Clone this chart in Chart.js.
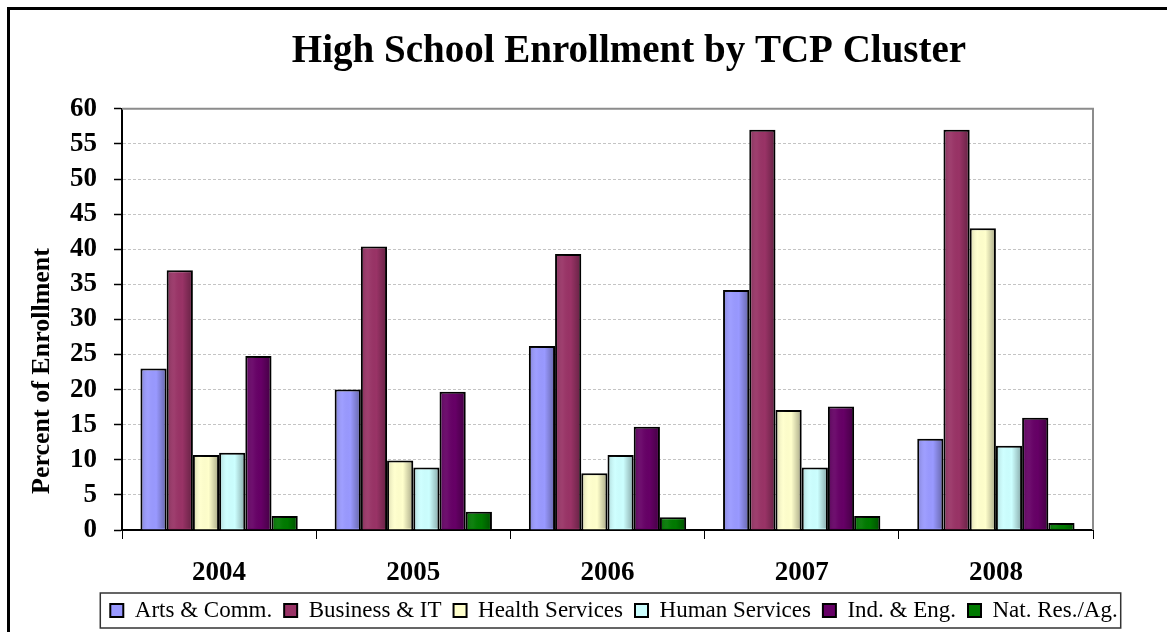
<!DOCTYPE html>
<html>
<head>
<meta charset="utf-8">
<script src="https://cdn.jsdelivr.net/npm/chart.js@4/dist/chart.umd.min.js"></script>
<style>
  html, body { margin: 0; padding: 0; background: #fff; }
  #wrap { position: relative; width: 1167px; height: 632px; }
</style>
</head>
<body>
<div id="wrap"><canvas id="enrollChart"></canvas></div>
<script>
// data
let years = ['2004', '2005', '2006', '2007', '2008'];
let artsComm = [23, 20, 26.2, 34.2, 13];
let businessIT = [37, 40.4, 39.3, 57, 57];
let healthServices = [10.7, 9.9, 8.1, 17.1, 43];
let humanServices = [11, 8.9, 10.7, 8.9, 12];
let indEng = [24.8, 19.7, 14.7, 17.6, 16];
let natResAg = [2, 2.6, 1.8, 2, 1];
let yTicks = [0, 5, 10, 15, 20, 25, 30, 35, 40, 45, 50, 55, 60];

const serif = "'Liberation Serif', 'DejaVu Serif', serif";

function ds(label, data, color) {
  return {
    label: label,
    data: data,
    backgroundColor: color,
    borderColor: '#000',
    borderWidth: 2,
    borderSkipped: 'bottom',
    categoryPercentage: 0.81,
    barPercentage: 1.0
  };
}

const enrollData = {
  labels: years,
  datasets: [
    ds('Arts & Comm.', artsComm, '#9999ff'),
    ds('Business & IT', businessIT, '#993366'),
    ds('Health Services', healthServices, '#ffffcc'),
    ds('Human Services', humanServices, '#ccffff'),
    ds('Ind. & Eng.', indEng, '#660066'),
    ds('Nat. Res./Ag.', natResAg, '#007a00')
  ]
};

// frame, plot border, legend box, y title and bar shading
const framePlugin = {
  id: 'frame',
  afterLayout(chart) {
    // the original title and legend sit a bit right of the canvas centre
    const t = chart.titleBlock;
    if (t) { const dx = 629 - (t.left + t.right) / 2; t.left += dx; t.right += dx; }
    const l = chart.legend;
    if (l) { const dx = 614 - (l.left + l.right) / 2; l.left += dx; l.right += dx; }
  },
  beforeDraw(chart) {
    const ctx = chart.ctx;
    ctx.save();
    ctx.fillStyle = '#fff';
    ctx.fillRect(0, 0, chart.width, chart.height);
    ctx.restore();
  },
  afterDatasetsDraw(chart) {
    const ctx = chart.ctx;
    ctx.save();
    chart.data.datasets.forEach((d, i) => {
      chart.getDatasetMeta(i).data.forEach(bar => {
        const w = bar.width, l = bar.x - w / 2;
        const g = ctx.createLinearGradient(l, 0, l + w, 0);
        g.addColorStop(0, 'rgba(0,0,0,0.18)');
        g.addColorStop(0.3, 'rgba(255,255,255,0.05)');
        g.addColorStop(0.6, 'rgba(0,0,0,0)');
        g.addColorStop(1, 'rgba(0,0,0,0.35)');
        ctx.fillStyle = g;
        ctx.fillRect(l + 1, bar.y + 1, w - 2, bar.base - bar.y - 2);
      });
    });
    ctx.restore();
  },
  afterDraw(chart) {
    const ctx = chart.ctx;
    const a = chart.chartArea;
    ctx.save();
    // plot border top/right
    ctx.strokeStyle = '#8c8c8c';
    ctx.lineWidth = 2;
    ctx.beginPath();
    ctx.moveTo(a.left, a.top);
    ctx.lineTo(a.right, a.top);
    ctx.lineTo(a.right, a.bottom);
    ctx.stroke();
    // y axis title
    ctx.save();
    ctx.translate(42, 371);
    ctx.rotate(-Math.PI / 2);
    ctx.fillStyle = '#000';
    ctx.font = "bold 26px " + serif;
    ctx.textAlign = 'center';
    ctx.textBaseline = 'middle';
    ctx.fillText('Percent of Enrollment', 0, 0);
    ctx.restore();
    // legend box
    const boxes = chart.legend.legendHitBoxes;
    if (boxes && boxes.length) {
      let minX = Infinity, maxX = -Infinity, minY = Infinity, maxY = -Infinity;
      boxes.forEach(b => {
        minX = Math.min(minX, b.left); maxX = Math.max(maxX, b.left + b.width);
        minY = Math.min(minY, b.top); maxY = Math.max(maxY, b.top + b.height);
      });
      ctx.strokeStyle = '#333';
      ctx.lineWidth = 1.5;
      ctx.strokeRect(minX - 10, minY - 6, maxX - minX + 13, maxY - minY + 12);
    }
    // outer frame
    ctx.strokeStyle = '#000';
    ctx.lineWidth = 3;
    ctx.strokeRect(8.5, 8.5, chart.width + 20, chart.height + 20);
    ctx.restore();
  }
};

const enrollConfig = {
  type: 'bar',
  data: enrollData,
  options: {
    responsive: true,
    maintainAspectRatio: false,
    animation: false,
    layout: { padding: { left: 8, right: 4, top: 8, bottom: 0 } },
    plugins: {
      title: {
        display: true,
        text: 'High School Enrollment by TCP Cluster',
        color: '#000',
        font: { family: serif, size: 39, weight: 'bold' },
        padding: { top: 21, bottom: 33 }
      },
      legend: {
        position: 'bottom',
        align: 'center',
        labels: {
          color: '#000',
          font: { family: serif, size: 23 },
          boxWidth: 13,
          boxHeight: 13,
          padding: 12
        }
      },
      tooltip: { enabled: false }
    },
    scales: {
      x: {
        afterFit(scale) {
          // leave the plot bottom where the original has it
          scale.height = Math.max(40, scale.chart.height - 530 - scale.chart.legend.height);
        },
        grid: {
          display: true,
          drawOnChartArea: false,
          offset: true,
          tickLength: 9,
          color: '#000'
        },
        border: { color: '#000', width: 2 },
        ticks: {
          color: '#000',
          padding: 21,
          autoSkip: false,
          font: { family: serif, size: 27, weight: 'bold', lineHeight: 1 }
        }
      },
      y: {
        min: 0,
        max: 60,
        afterBuildTicks(scale) {
          scale.ticks = yTicks.map(v => ({ value: v }));
        },
        afterFit(scale) { scale.width = 114; },
        grid: {
          color: (c) => (c.tick && (c.tick.value === 0 || c.tick.value === 60)) ? 'rgba(0,0,0,0)' : '#c4c4c4',
          tickLength: 8,
          tickColor: '#000',
          tickBorderDash: [],
          tickWidth: 1.5
        },
        border: { color: '#000', width: 2, dash: [3, 2] },
        ticks: {
          color: '#000',
          padding: 17,
          autoSkip: false,
          font: { family: serif, size: 27, weight: 'bold' }
        }
      },
      y2: {
        position: 'right',
        display: true,
        afterFit(scale) { scale.width = 70; },
        grid: { display: false, drawOnChartArea: false },
        border: { display: false },
        ticks: { display: false }
      }
    }
  },
  plugins: [framePlugin]
};

let enrollChart = new Chart(
  document.getElementById('enrollChart'),
  enrollConfig
);
</script>
</body>
</html>
